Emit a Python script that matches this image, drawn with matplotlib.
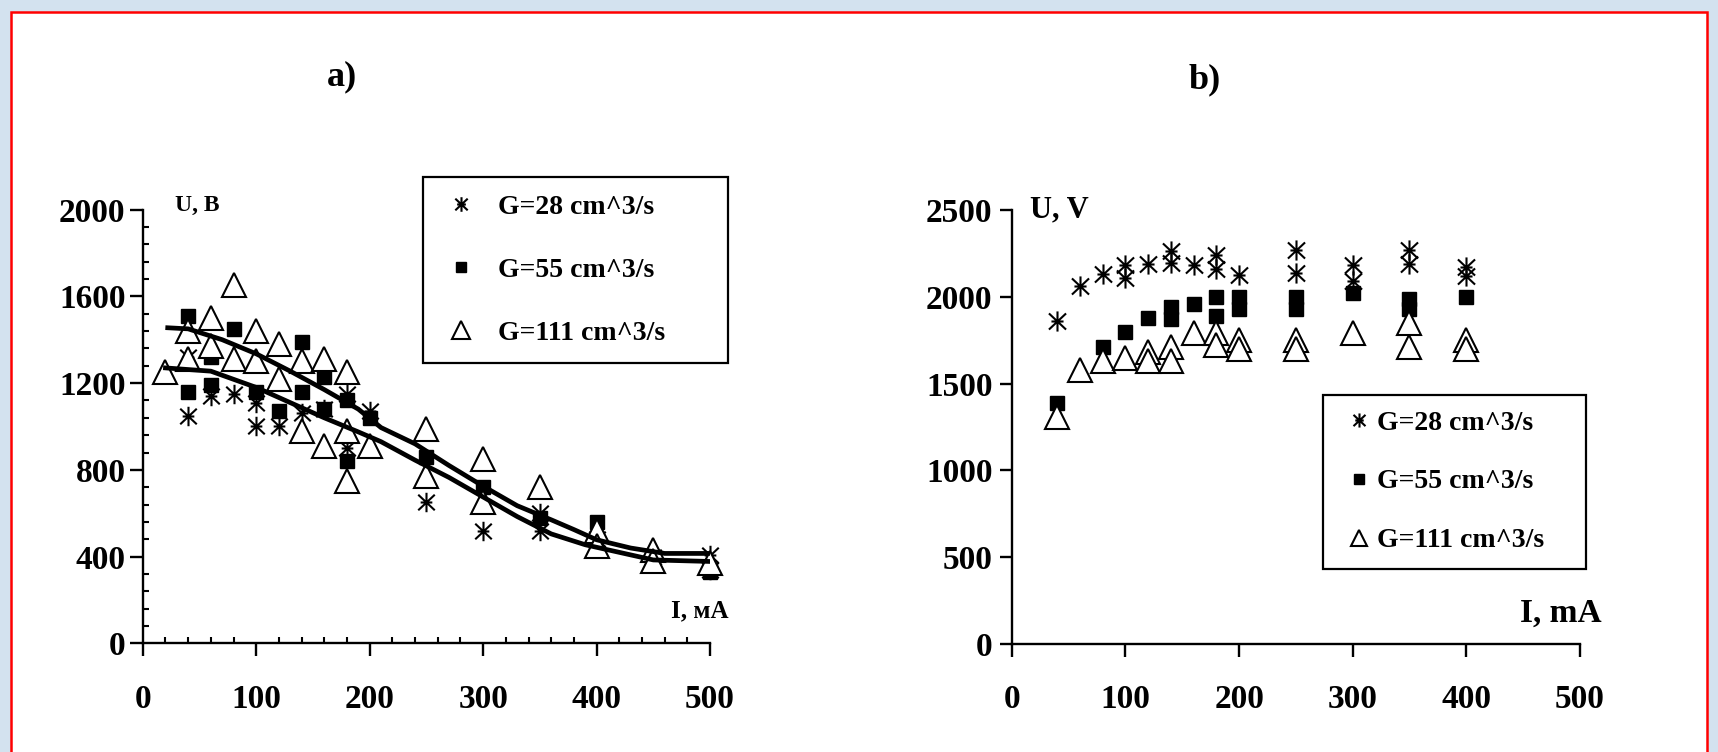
import matplotlib
matplotlib.use('Agg')
import matplotlib.pyplot as plt
from matplotlib.path import Path
from matplotlib.patches import Rectangle
from matplotlib.ticker import MultipleLocator

plt.rcParams['font.family'] = ['Liberation Serif', 'DejaVu Serif']
plt.rcParams['font.weight'] = 'bold'

# ---- panel a) : U(I), scattered measurements + two fitted curves
a_ast_I = [40, 40, 60, 80, 100, 100, 120, 140, 160, 180, 180, 200, 250, 300, 350, 350, 400, 450, 500, 500]
a_ast_U = [1050, 1320, 1140, 1150, 1000, 1110, 1000, 1060, 1080, 1150, 900, 1070, 650, 520, 520, 600, 480, 400, 410, 340]

a_sq_I = [40, 40, 60, 60, 80, 100, 120, 140, 140, 160, 160, 180, 180, 200, 250, 300, 350, 400, 450, 500]
a_sq_U = [1510, 1160, 1320, 1190, 1450, 1160, 1070, 1390, 1160, 1230, 1080, 1120, 840, 1040, 860, 720, 580, 560, 400, 330]

a_tri_I = [20, 40, 40, 60, 60, 80, 80, 100, 100, 120, 120, 140, 140, 160, 160, 180, 180, 180, 200,
           250, 250, 300, 300, 350, 400, 400, 450, 450, 500]
a_tri_U = [1250, 1440, 1310, 1500, 1370, 1650, 1310, 1440, 1300, 1380, 1220, 1300, 980, 1310, 910, 1250, 980, 750, 910,
           990, 770, 850, 650, 720, 520, 450, 430, 380, 370]

fit_hi_I = [22, 40, 70, 100, 130, 160, 190, 210, 240, 270, 300, 330, 360, 380, 400, 430, 460, 500]
fit_hi_U = [1455, 1450, 1400, 1335, 1255, 1170, 1080, 995, 920, 820, 725, 635, 570, 525, 478, 440, 415, 415]
fit_lo_I = [20, 60, 100, 130, 160, 190, 210, 240, 270, 300, 330, 360, 390, 420, 450, 500]
fit_lo_U = [1270, 1255, 1180, 1110, 1040, 975, 930, 845, 765, 675, 585, 505, 455, 420, 385, 378]

# ---- panel b)
b_ast_I = [40, 60, 80, 100, 100, 120, 140, 140, 160, 180, 180, 200, 250, 250, 300, 300, 350, 350, 400, 400]
b_ast_U = [1860, 2065, 2130, 2185, 2110, 2190, 2265, 2195, 2185, 2240, 2160, 2125, 2270, 2135, 2185, 2090, 2270, 2190, 2170, 2120]

b_sq_I = [40, 80, 100, 120, 140, 140, 160, 180, 180, 200, 200, 250, 250, 300, 350, 350, 400]
b_sq_U = [1390, 1710, 1800, 1880, 1940, 1870, 1960, 2000, 1890, 2000, 1930, 2000, 1930, 2020, 1990, 1930, 2000]

b_tri_I = [40, 60, 80, 100, 120, 120, 140, 140, 160, 180, 180, 200, 200, 250, 250, 300, 350, 350, 400, 400]
b_tri_U = [1310, 1580, 1630, 1650, 1680, 1630, 1710, 1630, 1790, 1790, 1720, 1750, 1700, 1750, 1700, 1790, 1850, 1710, 1750, 1700]

labels = ['G=28 cm^3/s', 'G=55 cm^3/s', 'G=111 cm^3/s']

# asterisk like the old spreadsheet marker
M, L = Path.MOVETO, Path.LINETO
star = Path([(0, -1), (0, 1), (-0.85, -0.8), (0.85, 0.8), (-0.85, 0.8), (0.85, -0.8), (-0.6, 0), (0.6, 0)],
            [M, L, M, L, M, L, M, L])

fig = plt.figure(figsize=(17.18, 7.52), dpi=100)
fig.patch.set_facecolor('#d3e2ef')
fig.patches.append(Rectangle((10.7 / 1718, -0.05), (1707 - 10.7) / 1718, 1.05 - 12 / 752,
                             transform=fig.transFigure, facecolor='white', edgecolor='red',
                             linewidth=1.8, zorder=-5))

ax1 = fig.add_axes([0.0831, 0.1443, 0.3302, 0.5771])
ax2 = fig.add_axes([0.589, 0.1436, 0.3306, 0.5771])


def draw(ax, ast, sq, tri, sz):
    h1, = ax.plot(ast[0], ast[1], ls='none', marker=star, ms=sz[0], mfc='none', mec='black', mew=1.5, clip_on=False)
    h2, = ax.plot(sq[0], sq[1], ls='none', marker='s', ms=sz[1], mfc='black', mec='black', clip_on=False)
    h3, = ax.plot(tri[0], tri[1], ls='none', marker='^', ms=sz[2], mfc='white', mec='black', mew=1.5, clip_on=False)
    return [h1, h2, h3]


hs1 = draw(ax1, (a_ast_I, a_ast_U), (a_sq_I, a_sq_U), (a_tri_I, a_tri_U), (14, 10, 17))
ax1.plot(fit_hi_I, fit_hi_U, color='black', lw=3.4, zorder=5, solid_joinstyle='round')
ax1.plot(fit_lo_I, fit_lo_U, color='black', lw=3.4, zorder=5, solid_joinstyle='round')
hs2 = draw(ax2, (b_ast_I, b_ast_U), (b_sq_I, b_sq_U), (b_tri_I, b_tri_U), (14.5, 10, 17))

for ax, ymax, ystep in [(ax1, 2000, 400), (ax2, 2500, 500)]:
    ax.set_xlim(0, 500)
    ax.set_ylim(0, ymax)
    ax.set_xticks(range(0, 501, 100))
    ax.set_yticks(range(0, ymax + 1, ystep))
    ax.spines['top'].set_visible(False)
    ax.spines['right'].set_visible(False)
    for s in ['left', 'bottom']:
        ax.spines[s].set_linewidth(1.7)
    ax.set_facecolor('none')

ax1.xaxis.set_minor_locator(MultipleLocator(20))
ax1.yaxis.set_minor_locator(MultipleLocator(80))
ax1.tick_params(which='major', direction='out', length=9.5, width=1.7, labelsize=24)
ax1.tick_params(which='minor', direction='in', length=4, width=1.5)
ax1.tick_params(axis='y', which='major', pad=3)
ax1.tick_params(axis='x', which='major', pad=20)

ax2.tick_params(which='major', direction='out', length=9, width=1.7, labelsize=24)
ax2.tick_params(axis='y', pad=5)
ax2.tick_params(axis='x', pad=20)

ax1.text(0.057, 1.01, 'U, В', transform=ax1.transAxes, fontsize=17, va='center', ha='left')
ax1.text(1.033, 0.075, 'I, мА', transform=ax1.transAxes, fontsize=18, va='center', ha='right')
ax2.text(0.032, 1.0, 'U, V', transform=ax2.transAxes, fontsize=22, va='center', ha='left')
ax2.text(1.039, 0.07, 'I, mA', transform=ax2.transAxes, fontsize=24, va='center', ha='right')

fig.text(0.199, 0.8976, 'a)', fontsize=26, ha='center', va='center')
fig.text(0.7014, 0.8936, 'b)', fontsize=26, ha='center', va='center')

leg1 = ax1.legend(hs1, labels, loc='upper left', bbox_to_anchor=(423 / 1718, 1 - 177 / 752, 305 / 1718, 0),
                  bbox_transform=fig.transFigure, mode='expand', fontsize=20, fancybox=False, framealpha=1,
                  edgecolor='black', borderpad=0.62, labelspacing=1.36, handlelength=1.53, handletextpad=0.54,
                  markerscale=0.75, borderaxespad=0)
leg1.get_frame().set_linewidth(1.6)

leg2 = ax2.legend(hs2, labels, loc='upper left', bbox_to_anchor=(1323 / 1718, 1 - 395 / 752, 263 / 1718, 0),
                  bbox_transform=fig.transFigure, mode='expand', fontsize=20, fancybox=False, framealpha=1,
                  edgecolor='black', borderpad=0.55, labelspacing=1.2, handlelength=1.5, handletextpad=-0.1,
                  markerscale=0.7, borderaxespad=0)
leg2.get_frame().set_linewidth(1.6)

fig.savefig('out.png', dpi=100, facecolor=fig.get_facecolor())
